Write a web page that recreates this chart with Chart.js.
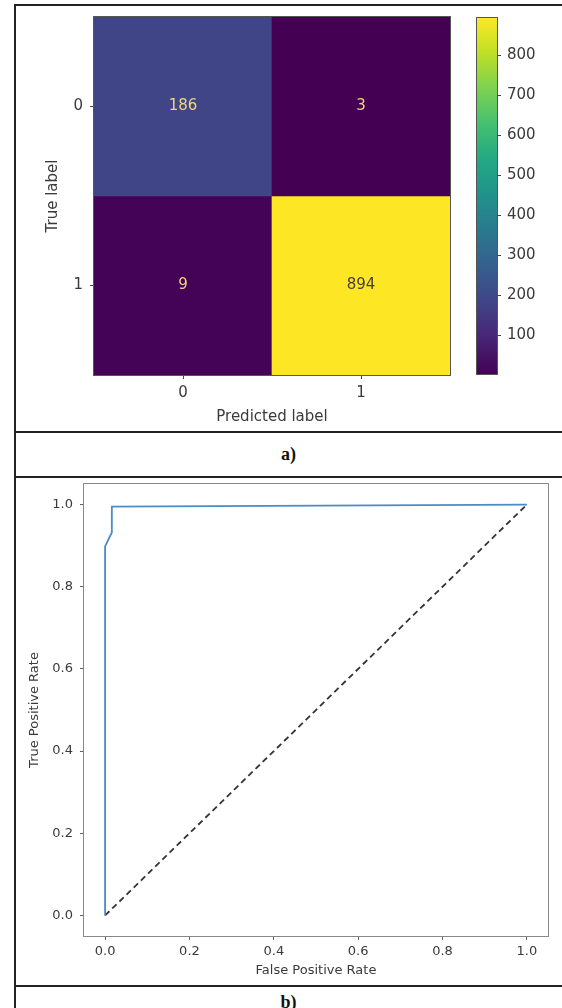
<!DOCTYPE html>
<html><head><meta charset="utf-8">
<script src="https://cdn.jsdelivr.net/npm/chart.js@4.4.1/dist/chart.umd.min.js"></script>
<style>
html,body{margin:0;padding:0;background:#fff;}
body{width:562px;height:1008px;position:relative;overflow:hidden;}
.ln{position:absolute;background:#222;}
canvas{position:absolute;}
.cap{position:absolute;left:15px;width:547px;text-align:center;font:bold 18px "Liberation Serif","DejaVu Serif",serif;color:#111;line-height:20px;}
</style></head><body>
<div class="ln" style="left:14px;top:4px;width:2px;height:1004px"></div>
<div class="ln" style="left:14px;top:4px;width:548px;height:2px"></div>
<div class="ln" style="left:14px;top:431px;width:548px;height:2px"></div>
<div class="ln" style="left:14px;top:476px;width:548px;height:2px"></div>
<div class="ln" style="left:14px;top:985px;width:548px;height:2px"></div>
<div class="cap" style="top:444px">a)</div>
<div class="cap" style="top:992px">b)</div>
<canvas id="cm" width="440" height="424" style="left:20px;top:6px"></canvas>
<canvas id="cb" width="80" height="380" style="left:470px;top:6px"></canvas>
<canvas id="roc" width="540" height="500" style="left:20px;top:480px"></canvas>
<script>
// ---- data ----
const predictedLabels = ['0', '1'];
const trueLabels = ['0', '1'];
const cmRow0 = [186, 3];
const cmRow1 = [9, 894];
const colorbarTicks = [100, 200, 300, 400, 500, 600, 700, 800];
const fpr = [0, 0, 0.016, 0.016, 1];
const tpr = [0, 0.898, 0.932, 0.995, 1];
const diagX = [0, 1];
const diagY = [0, 1];
const rocTicks = [0, 0.2, 0.4, 0.6, 0.8, 1.0];

// ---- styling helpers ----
Chart.defaults.font.family = '"DejaVu Sans", sans-serif';
Chart.defaults.color = '#3a3a3a';
Chart.defaults.animation = false;

const viridisStops = ['#440154','#482475','#414487','#355f8d','#2a788e','#21918c','#22a884','#44bf70','#7ad151','#bddf26','#fde725'];
function hex2rgb(h){return [parseInt(h.slice(1,3),16),parseInt(h.slice(3,5),16),parseInt(h.slice(5,7),16)];}
function viridis(t){
  t = Math.max(0, Math.min(1, t));
  const p = t * (viridisStops.length - 1);
  const i = Math.min(Math.floor(p), viridisStops.length - 2);
  const f = p - i;
  const a = hex2rgb(viridisStops[i]), b = hex2rgb(viridisStops[i+1]);
  return 'rgb(' + a.map((c,k)=>Math.round(c + (b[k]-c)*f)).join(',') + ')';
}
function noPad(s){ s.paddingTop = 0; s.paddingBottom = 0; s.paddingLeft = 0; s.paddingRight = 0; }

const cellRows = [cmRow0, cmRow1];
const allVals = cmRow0.concat(cmRow1);
const vMin = Math.min(...allVals), vMax = Math.max(...allVals);

function frame(color){
  return {id:'frame', afterDraw(chart){
    const a = chart.chartArea, c = chart.ctx;
    c.save(); c.strokeStyle = color; c.lineWidth = 1;
    c.strokeRect(Math.round(a.left)-0.5, Math.round(a.top)-0.5, Math.round(a.right-a.left)+1, Math.round(a.bottom-a.top)+1);
    c.restore();
  }};
}

const cellText = {id:'cellText', afterDatasetsDraw(chart){
  const c = chart.ctx;
  c.save();
  c.font = '15px "DejaVu Sans"';
  c.textAlign = 'center'; c.textBaseline = 'middle';
  chart.data.datasets.forEach((ds, di) => {
    chart.getDatasetMeta(di).data.forEach((el, i) => {
      const p = el.getProps(['x','y','base'], true);
      const v = ds.values[i];
      const t = (v - vMin) / (vMax - vMin);
      c.fillStyle = t < 0.5 ? '#eed67c' : '#4a3b3a';
      c.fillText(String(v), p.x, (p.y + p.base) / 2);
    });
  });
  c.restore();
}};

// ---- confusion matrix ----
new Chart(document.getElementById('cm'), {
  type: 'bar',
  data: {
    labels: predictedLabels,
    datasets: cellRows.map((row, r) => ({
      data: row.map(() => [r - 0.5, r + 0.5]),
      values: row,
      backgroundColor: row.map(v => viridis((v - vMin) / (vMax - vMin))),
      borderWidth: 0,
      grouped: false,
      categoryPercentage: 1,
      barPercentage: 1
    }))
  },
  options: {
    responsive: false, devicePixelRatio: 1,
    layout: {padding: {left: 0, top: 11, right: 10, bottom: 0}},
    plugins: {legend: {display: false}, tooltip: {enabled: false}},
    scales: {
      x: {
        grid: {display: true, drawOnChartArea: false, offset: false, tickLength: 4, color: '#444'},
        border: {display: false},
        ticks: {font: {size: 15}, padding: 5, maxRotation: 0},
        title: {display: true, text: 'Predicted label', font: {size: 15}, padding: {top: 0, bottom: 4}},
        afterFit(s){ s.height = 55; noPad(s); }
      },
      y: {
        type: 'linear', min: -0.5, max: 1.5, reverse: true,
        afterBuildTicks(s){ s.ticks = trueLabels.map((_, i) => ({value: i})); },
        ticks: {callback: v => trueLabels[v], font: {size: 15}, padding: 7},
        grid: {drawOnChartArea: false, tickLength: 4, color: '#444'},
        border: {display: false},
        title: {display: true, text: 'True label', font: {size: 15}, padding: {top: 24, bottom: 0}},
        afterFit(s){ s.width = 74; noPad(s); }
      }
    }
  },
  plugins: [frame('#555'), cellText]
});

// ---- colorbar ----
new Chart(document.getElementById('cb'), {
  type: 'bar',
  data: {
    labels: [''],
    datasets: [{
      data: [[vMin, vMax]],
      backgroundColor(ctx){
        const chart = ctx.chart;
        if (!chart.chartArea) return '#888';
        const y = chart.scales.y;
        const g = chart.ctx.createLinearGradient(0, y.getPixelForValue(vMin), 0, y.getPixelForValue(vMax));
        viridisStops.forEach((c, i) => g.addColorStop(i / (viridisStops.length - 1), c));
        return g;
      },
      borderWidth: 0, categoryPercentage: 1, barPercentage: 1
    }]
  },
  options: {
    responsive: false, devicePixelRatio: 1,
    layout: {padding: {left: 7, top: 12, bottom: 12, right: 0}},
    plugins: {legend: {display: false}, tooltip: {enabled: false}},
    scales: {
      x: {display: false},
      y: {
        position: 'right', min: vMin, max: vMax,
        afterBuildTicks(s){ s.ticks = colorbarTicks.map(v => ({value: v})); },
        ticks: {font: {size: 15}, padding: 6},
        grid: {drawOnChartArea: false, tickLength: 4, color: '#444'},
        border: {display: false},
        afterFit(s){ s.width = 53; noPad(s); }
      }
    }
  },
  plugins: [frame('#555')]
});

// ---- ROC ----
new Chart(document.getElementById('roc'), {
  type: 'line',
  data: {
    datasets: [
      {data: fpr.map((x, i) => ({x: x, y: tpr[i]})), borderColor: '#4a8cc6', borderWidth: 1.8, pointRadius: 0, tension: 0, fill: false},
      {data: diagX.map((x, i) => ({x: x, y: diagY[i]})), borderColor: '#333', borderWidth: 1.8, borderDash: [6, 4], pointRadius: 0, fill: false}
    ]
  },
  options: {
    responsive: false, devicePixelRatio: 1,
    layout: {padding: {left: 0, top: 4, right: 12, bottom: 0}},
    plugins: {legend: {display: false}, tooltip: {enabled: false}},
    scales: {
      x: {
        type: 'linear', min: -0.05, max: 1.05,
        afterBuildTicks(s){ s.ticks = rocTicks.map(v => ({value: v})); },
        ticks: {callback: v => v.toFixed(1), font: {size: 13}, padding: 4, maxRotation: 0},
        grid: {drawOnChartArea: false, tickLength: 4, color: '#666'},
        border: {display: false},
        title: {display: true, text: 'False Positive Rate', font: {size: 13}, padding: {top: 0, bottom: 2}},
        afterFit(s){ s.height = 44; noPad(s); }
      },
      y: {
        type: 'linear', min: -0.05, max: 1.05,
        afterBuildTicks(s){ s.ticks = rocTicks.map(v => ({value: v})); },
        ticks: {callback: v => v.toFixed(1), font: {size: 13}, padding: 7},
        grid: {drawOnChartArea: false, tickLength: 4, color: '#666'},
        border: {display: false},
        title: {display: true, text: 'True Positive Rate', font: {size: 13}, padding: {top: 7, bottom: 0}},
        afterFit(s){ s.width = 64; noPad(s); }
      }
    }
  },
  plugins: [frame('#888')]
});
</script>
</body></html>
